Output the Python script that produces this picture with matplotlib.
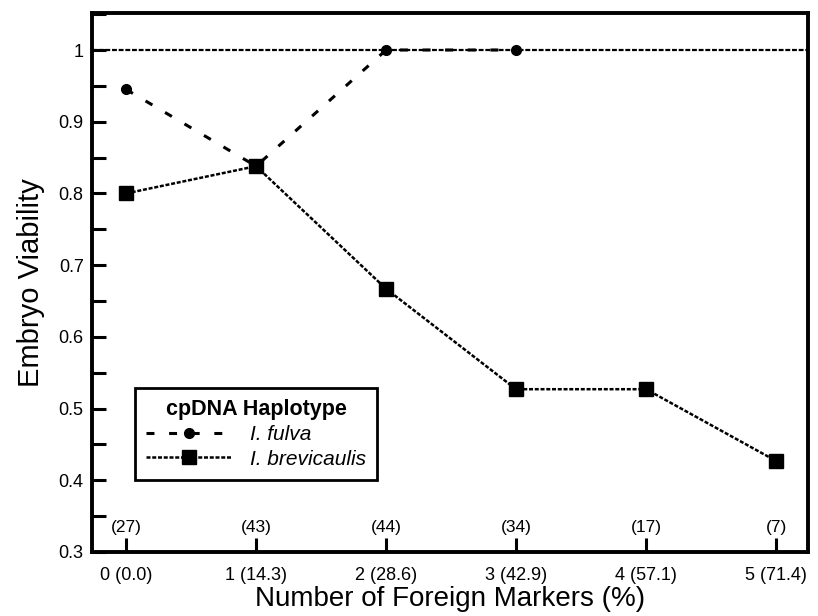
import numpy as np
import matplotlib
matplotlib.use("Agg")
import matplotlib.pyplot as plt
from matplotlib.ticker import MultipleLocator, FuncFormatter
from matplotlib.lines import Line2D

plt.rcParams["font.family"] = ["Liberation Sans Narrow", "Liberation Sans", "DejaVu Sans"]

# --- data -------------------------------------------------------------------
markers_n = [0, 1, 2, 3, 4, 5]
tick_labels = ["0 (0.0)", "1 (14.3)", "2 (28.6)", "3 (42.9)", "4 (57.1)", "5 (71.4)"]
sample_sizes = [27, 43, 44, 34, 17, 7]

fulva_x = [0, 1, 2, 3]
fulva_y = [0.945, 0.838, 1.0, 1.0]
brevicaulis_y = [0.800, 0.838, 0.667, 0.527, 0.527, 0.427]

FULVA_LS = (0, (2.6, 4.8))
BREV_LS = (0, (1.6, 0.7))

# --- figure -----------------------------------------------------------------
fig = plt.figure(figsize=(8.18, 6.16), dpi=100)
ax = fig.add_axes([0.1125, 0.1039, 0.8753, 0.875])

# reference line at full viability
ax.axhline(1.0, color="black", lw=1.6, ls=(0, (2.2, 0.8)), zorder=1)

ax.plot(fulva_x, fulva_y, color="black", lw=2.2, ls=FULVA_LS,
        marker="o", ms=7, zorder=3)
ax.plot(markers_n, brevicaulis_y, color="black", lw=1.8, ls=BREV_LS,
        marker="s", ms=10, zorder=4)

for x, n in zip(markers_n, sample_sizes):
    ax.text(x, 0.3335, f"({n})", ha="center", va="center", fontsize=12.5)

ax.set_xlim(-0.262, 5.246)
ax.set_ylim(0.3, 1.0516)
ax.set_xticks(markers_n)
ax.set_xticklabels(tick_labels)
ax.yaxis.set_major_locator(MultipleLocator(0.1))
ax.yaxis.set_minor_locator(MultipleLocator(0.05))
ax.yaxis.set_major_formatter(FuncFormatter(lambda v, p: "1" if abs(v - 1) < 1e-6 else f"{v:.1f}"))

ax.tick_params(axis="both", which="major", direction="in", length=10, width=2.2,
               labelsize=13)
ax.tick_params(axis="y", which="minor", direction="in", length=10, width=2.2)
ax.tick_params(axis="y", pad=6)
ax.tick_params(axis="x", pad=11)
for sp in ax.spines.values():
    sp.set_linewidth(2.8)

ax.set_xlabel("Number of Foreign Markers (%)", fontsize=20, labelpad=1)
ax.set_ylabel("Embryo Viability", fontsize=21, labelpad=10)

handles = [
    Line2D([], [], color="black", lw=2.2, ls=FULVA_LS, marker="o", ms=7),
    Line2D([], [], color="black", lw=1.8, ls=BREV_LS, marker="s", ms=10),
]
leg = ax.legend(handles, ["I. fulva", "I. brevicaulis"], loc="lower left",
                bbox_to_anchor=(0.060, 0.1335), borderaxespad=0,
                title="cpDNA Haplotype",
                numpoints=1, handlelength=4.1, fancybox=False, frameon=True,
                borderpad=0.55, labelspacing=0.25, handletextpad=0.85,
                prop={"size": 15, "style": "italic"},
                title_fontproperties={"size": 15.5, "weight": "bold"})
leg.get_frame().set_edgecolor("black")
leg.get_frame().set_linewidth(2.0)
leg.get_frame().set_alpha(1)

fig.savefig("out.png", dpi=100)
